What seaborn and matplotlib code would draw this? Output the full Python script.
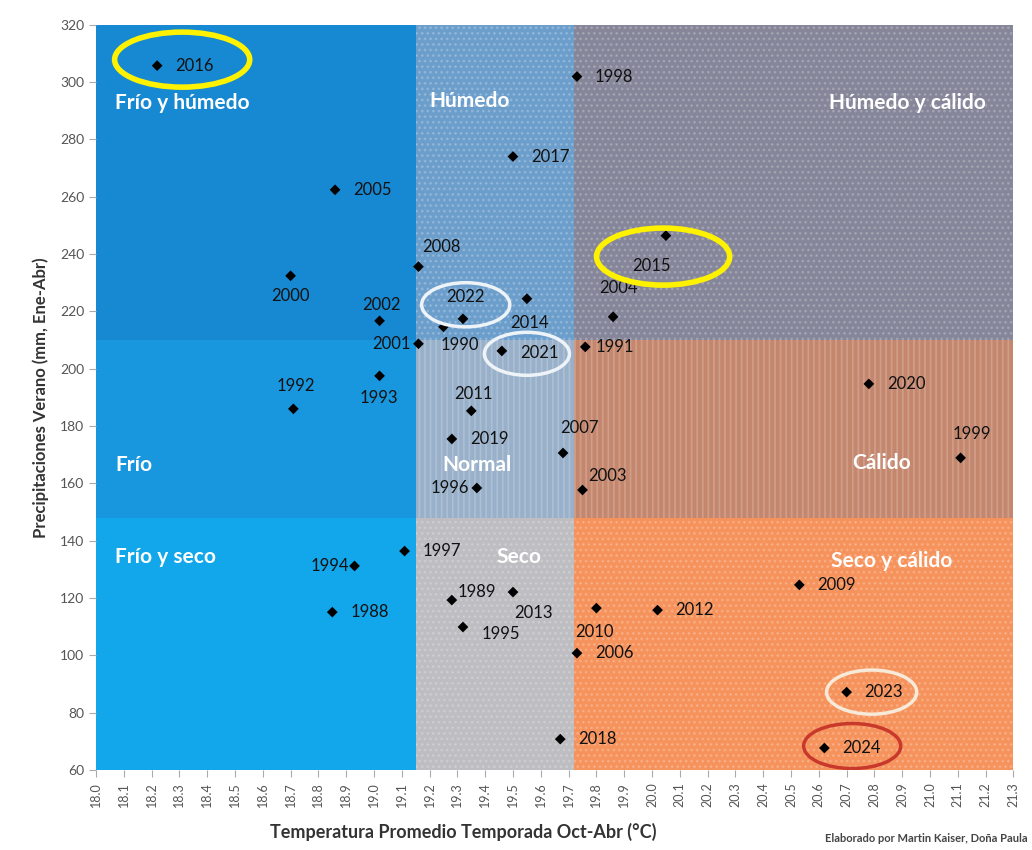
import matplotlib
matplotlib.use("Agg")
import matplotlib.pyplot as plt
from matplotlib.patches import Rectangle, Ellipse
import seaborn as sns
import pandas as pd
import numpy as np

# Data
years = [2016, 1998, 2017, 2005, 2008, 2000, 2015, 2002, 2022, 1990, 2014, 2004,
         2001, 2021, 1991, 1993, 1992, 2011, 2020, 2019, 2007, 1999, 1996, 2003,
         1997, 1994, 1989, 2013, 1988, 1995, 2009, 2010, 2012, 2006, 2023, 2018, 2024]
temps = [18.22, 19.73, 19.50, 18.86, 19.16, 18.70, 20.05, 19.02, 19.32, 19.25, 19.55, 19.86,
         19.16, 19.46, 19.76, 19.02, 18.71, 19.35, 20.78, 19.28, 19.68, 21.11, 19.37, 19.75,
         19.11, 18.93, 19.28, 19.50, 18.85, 19.32, 20.53, 19.80, 20.02, 19.73, 20.70, 19.67, 20.62]
precs = [305.7, 301.9, 274.0, 262.4, 235.6, 232.4, 246.4, 216.7, 217.4, 214.6, 224.4, 218.1,
         208.7, 206.2, 207.6, 197.5, 186.0, 185.3, 194.7, 175.5, 170.6, 168.9, 158.4, 157.7,
         136.4, 131.2, 119.3, 122.1, 115.1, 109.9, 124.6, 116.5, 115.8, 100.8, 87.2, 70.8, 67.7]

# quadrant limits (temperature / precipitation)
temp_bounds = [18.0, 19.15, 19.72, 21.3]
prec_bounds = [60, 148, 210, 320]

# zone names, rows from bottom (seco) to top (humedo), cols cold -> warm
zone_names = [["Frío y seco", "Seco", "Seco y cálido"],
              ["Frío", "Normal", "Cálido"],
              ["Frío y húmedo", "Húmedo", "Húmedo y cálido"]]

highlighted = {2016: "#fff200", 2015: "#fff200", 2022: "#eef3f8",
               2021: "#eef3f8", 2023: "#f7ead8", 2024: "#c8392b"}

df = pd.DataFrame({"year": years, "temp": temps, "prec": precs})

# styling -------------------------------------------------------------------
zone_colors = [["#12a6ea", "#bdbdc2", "#f6935c"],
               ["#1897df", "#98b0c9", "#c4876e"],
               ["#1789d2", "#6c9ecc", "#858699"]]
zone_hatch = [["", "...", "..."],
              ["", "|||", "|||"],
              ["", "...", "..."]]
# label offsets in pixels (dx, dy, ha)
offsets = {2016: (18, 0, "left"), 1998: (18, 0, "left"), 2017: (18, 0, "left"),
           2005: (18, 0, "left"), 2008: (4, 20, "left"), 2000: (0, -20, "center"),
           2015: (-14, -30, "center"), 2002: (2, 16, "center"), 2022: (2, 22, "center"),
           1990: (16, -18, "center"), 2014: (3, -24, "center"), 2004: (5, 29, "center"),
           2001: (-8, 0, "right"), 2021: (18, -2, "left"), 1991: (10, 0, "left"),
           1993: (-1, -22, "center"), 1992: (2, 23, "center"), 2011: (2, 17, "center"),
           2020: (18, 0, "left"), 2019: (18, 0, "left"), 2007: (16, 25, "center"),
           1999: (11, 24, "center"), 1996: (-8, 0, "right"), 2003: (6, 14, "left"),
           1997: (18, 0, "left"), 1994: (-5, 0, "right"), 1989: (6, 8, "left"),
           2013: (20, -21, "center"), 1988: (18, 0, "left"), 1995: (19, -7, "left"),
           2009: (18, 0, "left"), 2010: (-2, -24, "center"), 2012: (18, 0, "left"),
           2006: (18, 0, "left"), 2023: (18, 0, "left"), 2018: (18, 0, "left"),
           2024: (18, 0, "left")}
zone_label_pos = [[(18.07, 134.3, "left"), (19.44, 134.3, "left"), (20.645, 133.0, "left")],
                  [(18.07, 166.5, "left"), (19.245, 166.5, "left"), (20.72, 167.2, "left")],
                  [(18.07, 292.5, "left"), (19.20, 293.2, "left"), (21.2, 292.8, "right")]]

sns.set_style("white")
plt.rcParams["font.family"] = ["Lato", "DejaVu Sans"]
plt.rcParams["hatch.linewidth"] = 1.2

fig = plt.figure(figsize=(10.32, 8.5), dpi=100)
ax = fig.add_axes([0.093, 0.094, 0.889, 0.877])

for r in range(3):
    for c in range(3):
        x0, x1 = temp_bounds[c], temp_bounds[c + 1]
        y0, y1 = prec_bounds[r], prec_bounds[r + 1]
        ax.add_patch(Rectangle((x0, y0), x1 - x0, y1 - y0, facecolor=zone_colors[r][c],
                               edgecolor=(1, 1, 1, 0.2), hatch=zone_hatch[r][c],
                               linewidth=0, zorder=0))
        tx, ty, ha = zone_label_pos[r][c]
        ax.text(tx, ty, zone_names[r][c], color="white", fontsize=15, fontweight="bold",
                ha=ha, va="center", zorder=3)

sns.scatterplot(data=df, x="temp", y="prec", marker="D", color="black", s=30,
                edgecolor="none", ax=ax, zorder=4)

for yr, t, p in zip(years, temps, precs):
    dx, dy, ha = offsets[yr]
    ax.annotate(str(yr), (t, p), xytext=(dx, dy), textcoords="offset pixels",
                ha=ha, va="center", fontsize=12, color="#111111", zorder=5)

# circled years
ell_w = {2016: 0.486, 2015: 0.479, 2022: 0.317, 2021: 0.306, 2023: 0.324, 2024: 0.349}
ell_h = {2016: 19.2, 2015: 19.9, 2022: 15.4, 2021: 15.0, 2023: 15.4, 2024: 15.7}
ell_c = {2016: (18.31, 307.8), 2015: (20.04, 239.1), 2022: (19.33, 222.3),
         2021: (19.55, 205.2), 2023: (20.79, 87.2), 2024: (20.72, 68.4)}
ell_lw = {2016: 4, 2015: 4, 2022: 2.5, 2021: 2.5, 2023: 2.5, 2024: 2.5}
for yr, col in highlighted.items():
    ax.add_patch(Ellipse(ell_c[yr], ell_w[yr], ell_h[yr], facecolor="none",
                         edgecolor=col, linewidth=ell_lw[yr], zorder=6))

ax.set_xlim(18.0, 21.3)
ax.set_ylim(60, 320)
xt = np.round(np.arange(18.0, 21.31, 0.1), 1)
ax.set_xticks(xt)
ax.set_xticklabels([f"{v:.1f}" for v in xt], rotation=90, fontsize=9, color="#555555")
ax.set_yticks(range(60, 321, 20))
ax.set_yticklabels([str(v) for v in range(60, 321, 20)], fontsize=10, color="#555555")
ax.tick_params(axis="both", length=5, color="#aaaaaa", direction="out", bottom=True, left=True)
for s in ax.spines.values():
    s.set_visible(False)
ax.set_xlabel("")
ax.set_ylabel("Precipitaciones Verano (mm, Ene-Abr)", fontsize=12, fontweight="bold",
              color="#333333", labelpad=8)

fig.text(463 / 1032, 1 - 832 / 850, "Temperatura Promedio Temporada Oct-Abr (°C)",
         ha="center", va="center", fontsize=13, fontweight="bold", color="#333333")
fig.text(1028 / 1032, 1 - 838 / 850, "Elaborado por Martin Kaiser, Doña Paula",
         ha="right", va="center", fontsize=8, fontweight="bold", color="#444444")

fig.savefig("out.png", dpi=100, facecolor="white")
